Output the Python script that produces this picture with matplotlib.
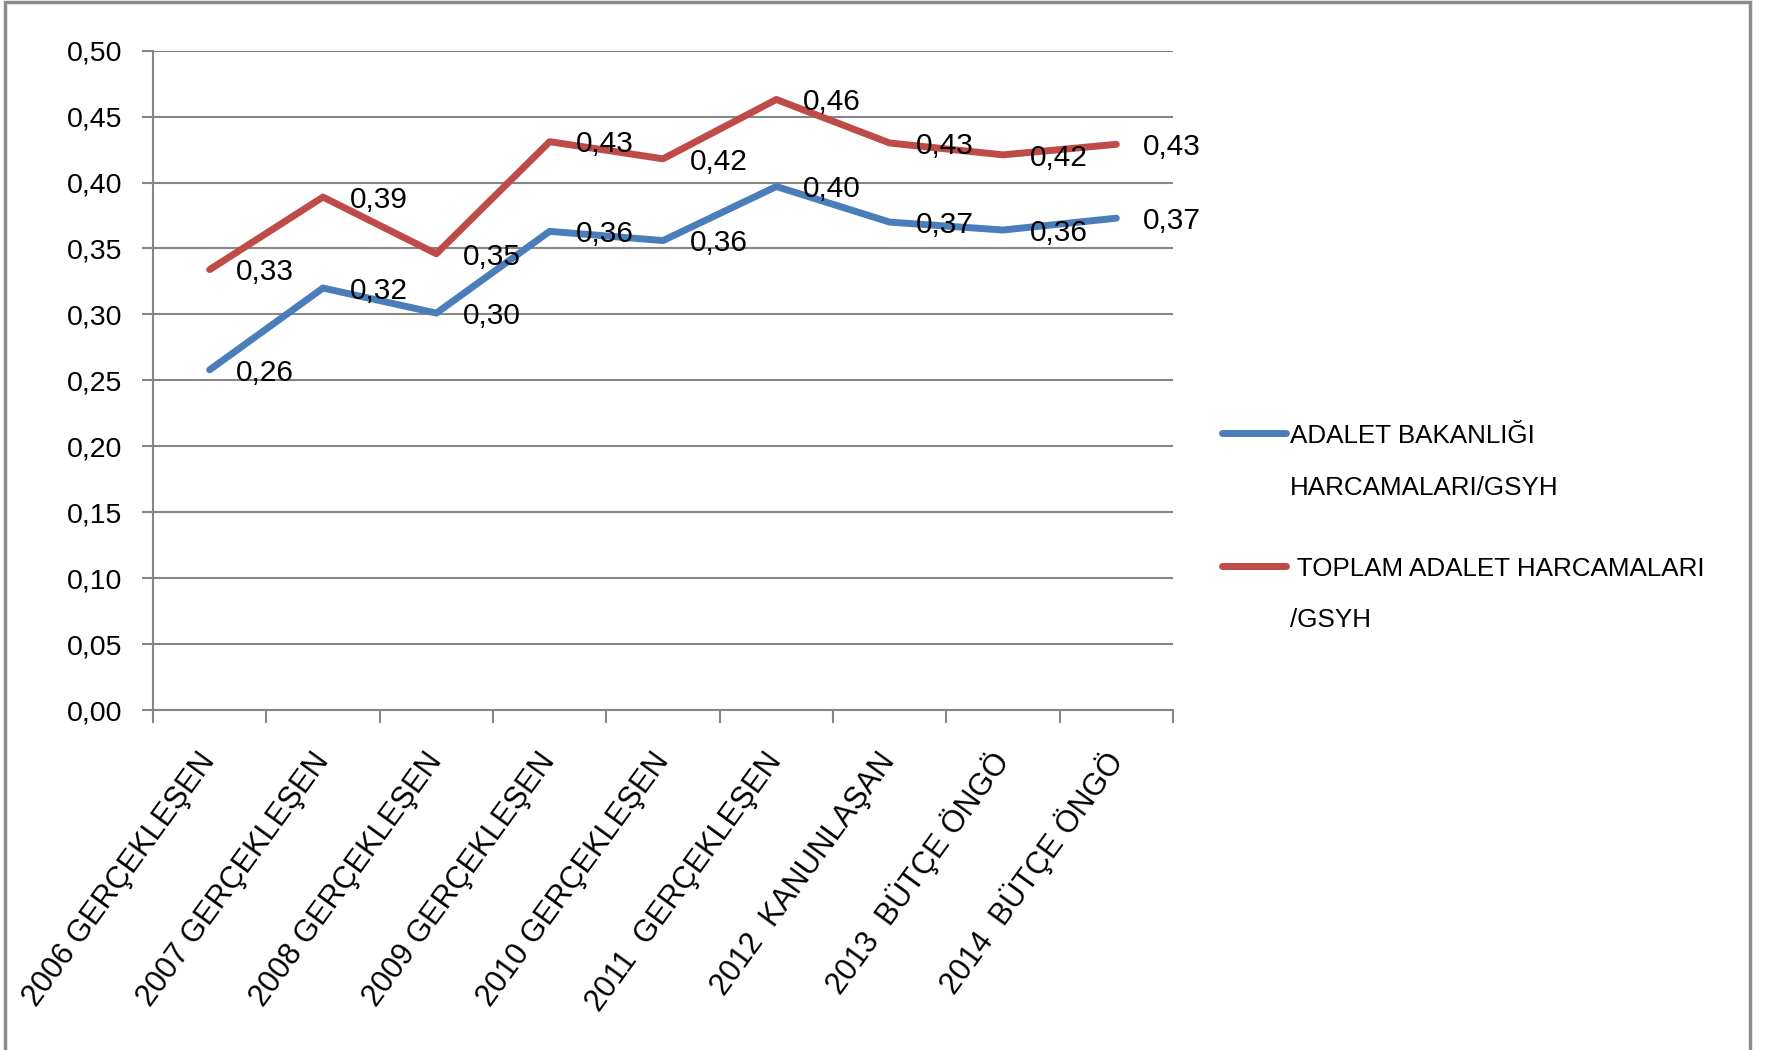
import matplotlib
matplotlib.use('Agg')
import matplotlib.pyplot as plt
import matplotlib.patches as patches
from matplotlib.legend_handler import HandlerLine2D
from matplotlib.ticker import FixedLocator, FuncFormatter

plt.rcParams['font.family'] = ['Liberation Sans', 'DejaVu Sans']

# data
categories = ['2006 GERÇEKLEŞEN', '2007 GERÇEKLEŞEN', '2008 GERÇEKLEŞEN',
              '2009 GERÇEKLEŞEN', '2010 GERÇEKLEŞEN', '2011  GERÇEKLEŞEN',
              '2012  KANUNLAŞAN', '2013  BÜTÇE ÖNGÖ', '2014  BÜTÇE ÖNGÖ']
bakanlik = [0.258, 0.320, 0.301, 0.363, 0.356, 0.397, 0.370, 0.364, 0.373]
toplam = [0.334, 0.389, 0.346, 0.431, 0.418, 0.463, 0.430, 0.421, 0.429]
series_names = ['ADALET BAKANLIĞI\nHARCAMALARI/GSYH', ' TOPLAM ADALET HARCAMALARI\n/GSYH']
series_colors = ['#4a7ebb', '#be4b48']
yticks = [0.00, 0.05, 0.10, 0.15, 0.20, 0.25, 0.30, 0.35, 0.40, 0.45, 0.50]


class TopLineHandler(HandlerLine2D):
    # put the legend line next to the first line of a two-line label
    def create_artists(self, legend, orig_handle, xdescent, ydescent,
                       width, height, fontsize, trans):
        artists = super().create_artists(legend, orig_handle, xdescent, ydescent,
                                         width, height, fontsize, trans)
        for a in artists:
            a.set_ydata([y + 21 for y in a.get_ydata()])
        return artists


fig = plt.figure(figsize=(17.66, 10.5), dpi=100)
ax = fig.add_axes([153 / 1766, 1 - 710 / 1050, (1173 - 153) / 1766, (710 - 50.7) / 1050])

x = list(range(len(categories)))
lines = []
for vals, name, col in zip([bakanlik, toplam], series_names, series_colors):
    ln, = ax.plot(x, vals, color=col, lw=5, solid_capstyle='round',
                  solid_joinstyle='round', label=name, zorder=3)
    lines.append(ln)
    for xi, v in zip(x, vals):
        ax.annotate(f'{v:.2f}'.replace('.', ','), (xi, v), xytext=(19, -2),
                    textcoords='offset points', ha='left', va='center',
                    fontsize=21.5, color='black', zorder=4)

ax.set_xlim(-0.5, len(categories) - 0.5)
ax.set_ylim(0, 0.5)
ax.set_yticks(yticks)
ax.yaxis.set_major_formatter(FuncFormatter(lambda v, p: f'{v:.2f}'.replace('.', ',')))

ax.set_xticks(x)
ax.set_xticklabels(categories, rotation=54, ha='right', rotation_mode='anchor', va='center')
ax.xaxis.set_minor_locator(FixedLocator([i - 0.5 for i in range(len(categories) + 1)]))
ax.tick_params(axis='x', which='major', length=0, pad=33, labelsize=22)
ax.tick_params(axis='x', which='minor', length=9.5, width=1.5, color='#868686', direction='out')
ax.tick_params(axis='y', length=8, width=1.5, color='#868686', pad=14, labelsize=20.5)

ax.grid(axis='y', color='#868686', lw=1.5)
ax.set_axisbelow(True)
for s in ['top', 'right']:
    ax.spines[s].set_visible(False)
for s in ['left', 'bottom']:
    ax.spines[s].set_color('#868686')
    ax.spines[s].set_linewidth(1.5)

leg = ax.legend(handles=lines, loc='upper left', bbox_to_anchor=(1222 / 1766, 1 - 424 / 1050),
                bbox_transform=fig.transFigure, frameon=False, fontsize=18.7,
                handlelength=2.45, handletextpad=0.18, labelspacing=2.2, borderpad=0,
                borderaxespad=0, handler_map={plt.Line2D: TopLineHandler()})
for t in leg.get_texts():
    t.set_linespacing(2.45)

# outer frame of the chart area
fig.add_artist(patches.Rectangle((5 / 1766, -0.02), (1750 - 5) / 1766, 1.02 - 2 / 1050,
                                 transform=fig.transFigure, fill=False,
                                 edgecolor='#8c8c8c', lw=2.5))

fig.savefig('out.png', dpi=100)
plt.close()
